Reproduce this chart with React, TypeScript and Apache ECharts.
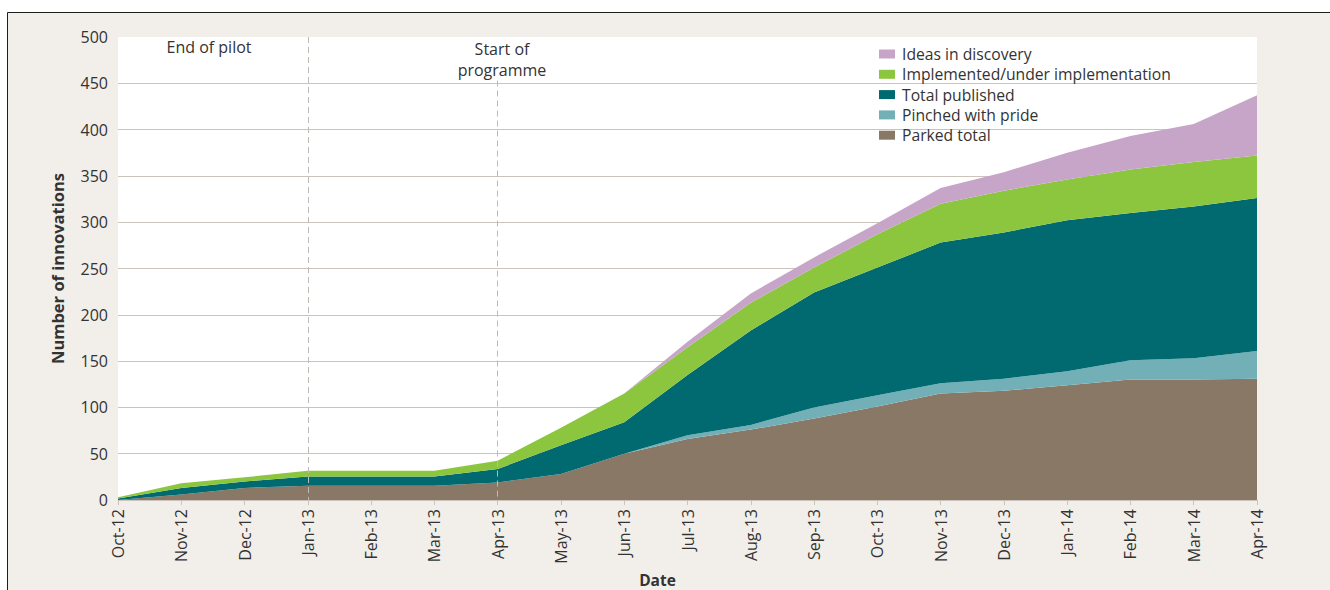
import React, { useEffect, useRef } from "react";
import * as echarts from "echarts";

const categories = [
  "Oct-12", "Nov-12", "Dec-12", "Jan-13", "Feb-13", "Mar-13", "Apr-13", "May-13", "Jun-13", "Jul-13",
  "Aug-13", "Sep-13", "Oct-13", "Nov-13", "Dec-13", "Jan-14", "Feb-14", "Mar-14", "Apr-14",
];
const parked = [0, 6, 13, 15.5, 15.5, 15.5, 19, 28, 50, 66, 76, 88, 101, 115, 118, 124, 130, 130, 131];
const pinched = [0, 0, 0, 0, 0, 0, 0, 0, 0, 4, 5, 12, 12, 11, 13, 15, 21, 23, 30];
const published = [1.5, 7, 7, 10, 10, 10, 14.5, 31, 34, 65, 102, 124, 138, 152, 158, 163, 159, 164, 165];
const implemented = [1.5, 5, 4.5, 6, 6, 6, 9, 19, 31, 30, 30, 27, 36, 42, 45, 44, 47, 48, 46];
const ideas = [0, 0, 0, 0, 0, 0, 0, 0, 0, 6, 10, 11, 12, 17, 20, 29, 36, 41, 65];

const seriesNames = [
  "Parked total",
  "Pinched with pride",
  "Total published",
  "Implemented/under implementation",
  "Ideas in discovery",
];
const seriesColors = ["#8a7866", "#72afb6", "#006a70", "#8cc63f", "#c7a5c8"];
const seriesData = [parked, pinched, published, implemented, ideas];
const yTicks = [0, 50, 100, 150, 200, 250, 300, 350, 400, 450, 500];

const FONT = "'Open Sans', sans-serif";
const TXT = "#333333";

export default function App() {
  const ref = useRef<HTMLDivElement>(null);
  useEffect(() => {
    if (!ref.current) return;
    const chart = echarts.init(ref.current, null, { renderer: "svg" });
    const gridColor = "#cbc4bc";
    const splitColors = yTicks.map((v, i) => (i === yTicks.length - 1 ? "rgba(0,0,0,0)" : gridColor));
    const series: any[] = seriesNames.map((name, i) => ({
      name,
      type: "line",
      stack: "total",
      data: seriesData[i],
      symbol: "none",
      showSymbol: false,
      lineStyle: { width: 0 },
      itemStyle: { color: seriesColors[i] },
      areaStyle: { color: seriesColors[i], opacity: 1 },
      emphasis: { disabled: true },
    }));
    series[series.length - 1].markLine = {
      silent: true,
      symbol: "none",
      label: { show: false },
      lineStyle: { type: [6, 4], color: "#bfb9b3", width: 1 },
      data: [
        [{ coord: ["Jan-13", 500] }, { coord: ["Jan-13", 0] }],
        [{ coord: ["Apr-13", 453] }, { coord: ["Apr-13", 0] }],
      ],
    };
    chart.setOption({
      animation: false,
      backgroundColor: "#ffffff",
      textStyle: { fontFamily: FONT },
      grid: {
        left: 118,
        right: 73,
        top: 37,
        bottom: 90,
        show: true,
        backgroundColor: "#ffffff",
        borderWidth: 0,
        containLabel: false,
        outerBoundsMode: "none",
      },
      legend: {
        orient: "vertical",
        left: 879,
        top: 46,
        padding: 0,
        itemWidth: 16,
        itemHeight: 9,
        itemGap: 4.3,
        icon: "rect",
        data: [...seriesNames].reverse(),
        textStyle: { fontSize: 15.7, color: TXT, fontFamily: FONT, lineHeight: 16, padding: [0, 0, 0, 2] },
        selectedMode: false,
      },
      xAxis: {
        type: "category",
        data: categories,
        boundaryGap: false,
        name: "Date",
        nameLocation: "middle",
        nameGap: 67,
        nameTextStyle: { fontSize: 15.5, fontWeight: "bold", color: TXT, fontFamily: FONT, padding: [0, 60, 0, 0] },
        axisLine: { lineStyle: { color: gridColor, width: 1 } },
        axisTick: { show: true, length: 5, lineStyle: { color: gridColor } },
        axisLabel: { rotate: 90, interval: 0, fontSize: 16, color: TXT, margin: 9, fontFamily: FONT },
        splitLine: { show: false },
      },
      yAxis: {
        type: "value",
        min: 0,
        max: 500,
        interval: 50,
        name: "Number of innovations",
        nameLocation: "middle",
        nameGap: 52,
        nameTextStyle: { fontSize: 16.5, fontWeight: "bold", color: TXT, fontFamily: FONT },
        axisLine: { show: false },
        axisTick: { show: false },
        axisLabel: { fontSize: 16, color: TXT, margin: 10, fontFamily: FONT },
        splitLine: { show: true, lineStyle: { color: splitColors, width: 1 } },
      },
      graphic: [
        {
          type: "rect",
          z: -100,
          silent: true,
          shape: { x: 7.5, y: 12.5, width: 1330, height: 640 },
          style: { fill: "#f2efea", stroke: "#1e1e1e", lineWidth: 1 },
        },
        {
          type: "text",
          z: 100,
          silent: true,
          x: 209,
          y: 47,
          style: { text: "End of pilot", fontSize: 16, fill: TXT, fontFamily: FONT, align: "center", verticalAlign: "middle" },
        },
        {
          type: "text",
          z: 100,
          silent: true,
          x: 502,
          y: 59,
          style: {
            text: "Start of\nprogramme",
            fontSize: 16,
            lineHeight: 21,
            fill: TXT,
            fontFamily: FONT,
            align: "center",
            verticalAlign: "middle",
          },
        },
      ],
      series,
    });
    return () => chart.dispose();
  }, []);
  return (
    <div style={{ position: "fixed", left: 0, top: 0, width: 1330, height: 590 }}>
      <div ref={ref} style={{ width: 1330, height: 590 }} />
    </div>
  );
}
